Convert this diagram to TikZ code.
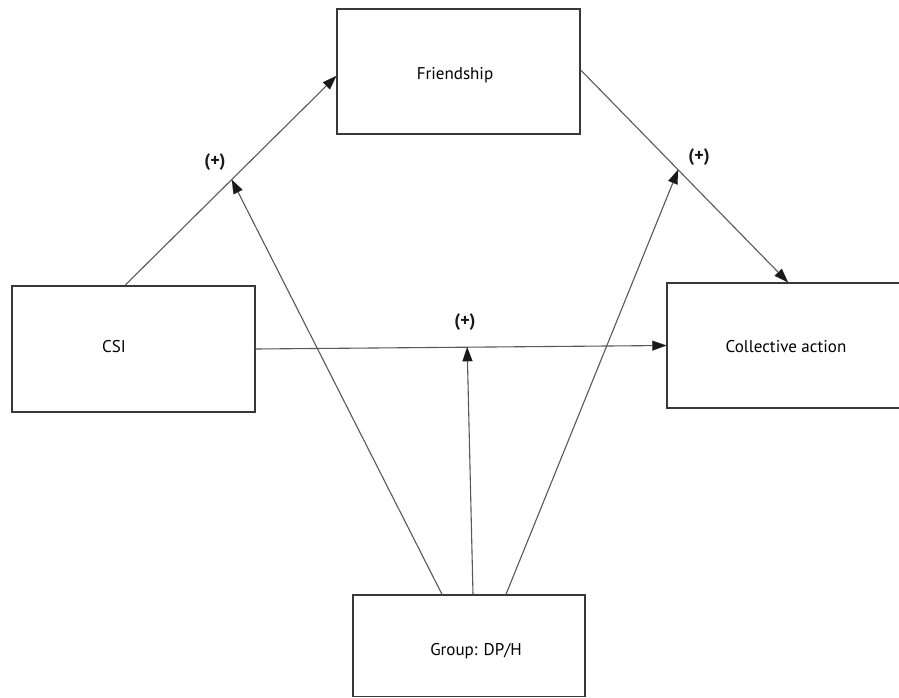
\documentclass[tikz,border=0pt]{standalone}
\usepackage{fontspec}
\setmainfont{PT Sans}
\usetikzlibrary{arrows.meta,calc}
\begin{document}
\begin{tikzpicture}[x=1pt,y=-1pt,
  box/.style={draw=black!78, line width=1.4pt, rectangle, inner sep=0pt},
  txt/.style={font=\fontsize{17}{19}\selectfont, text=black},
  lbl/.style={font=\fontsize{18}{20}\selectfont\bfseries, text=black!90},
  conn/.style={draw=black!65, line width=1.1pt},
  arr/.style={conn, -{Triangle[length=14pt,width=10pt,color=black!90,line width=0.1pt]}}]
\useasboundingbox[fill=white] (0,0) rectangle (899,698);
% boxes
\node[box, minimum width=243pt, minimum height=125pt] (fr) at (458.5,71.5) {};
\node[box, minimum width=243pt, minimum height=126pt] (csi) at (133.5,349) {};
\node[box, minimum width=240pt, minimum height=125pt] (ca) at (787,345.5) {};
\node[box, minimum width=232pt, minimum height=101.5pt] (g) at (469,645.75) {};
% texts
\node[txt] (tfr) at (455,75) {Friendship};
\node[txt] (tcsi) at (114,347) {CSI};
\node[txt] (tca) at (786,347) {Collective action};
\node[txt] (tg) at (476,651) {Group: DP/H};
% connector end points
\coordinate (c1s) at ($(csi.north)+(-8.5,0)$);
\coordinate (c1e) at ($(fr.west)+(0,4.5)$);
\coordinate (c2s) at ($(fr.east)+(0,-1.5)$);
\coordinate (c2e) at ($(ca.north)+(1,0)$);
\coordinate (c3s) at (csi.east);
\coordinate (c3e) at (ca.west);
\draw[arr] (c1s) -- (c1e);
\draw[arr] (c2s) -- (c2e);
\draw[arr] (c3s) -- (c3e);
% moderation targets
\coordinate (m1) at ($(c1s)!0.505!(c1e)$);
\coordinate (m2) at ($(c2s)!0.47!(c2e)$);
\coordinate (m3) at ($(c3s)!0.515!(c3e)$);
\coordinate (g1) at ($(g.north)+(-27,0)$);
\coordinate (g2) at ($(g.north)+(4,0)$);
\coordinate (g3) at ($(g.north)+(37,0)$);
\draw[arr] (g1) -- (m1);
\draw[arr] (g2) -- (m3);
\draw[arr] (g3) -- (m2);
% labels
\node[lbl] (l1) at (215,162) {(+)};
\node[lbl] (l2) at (699,157) {(+)};
\node[lbl] (l3) at (465,322) {(+)};
\end{tikzpicture}
\end{document}
